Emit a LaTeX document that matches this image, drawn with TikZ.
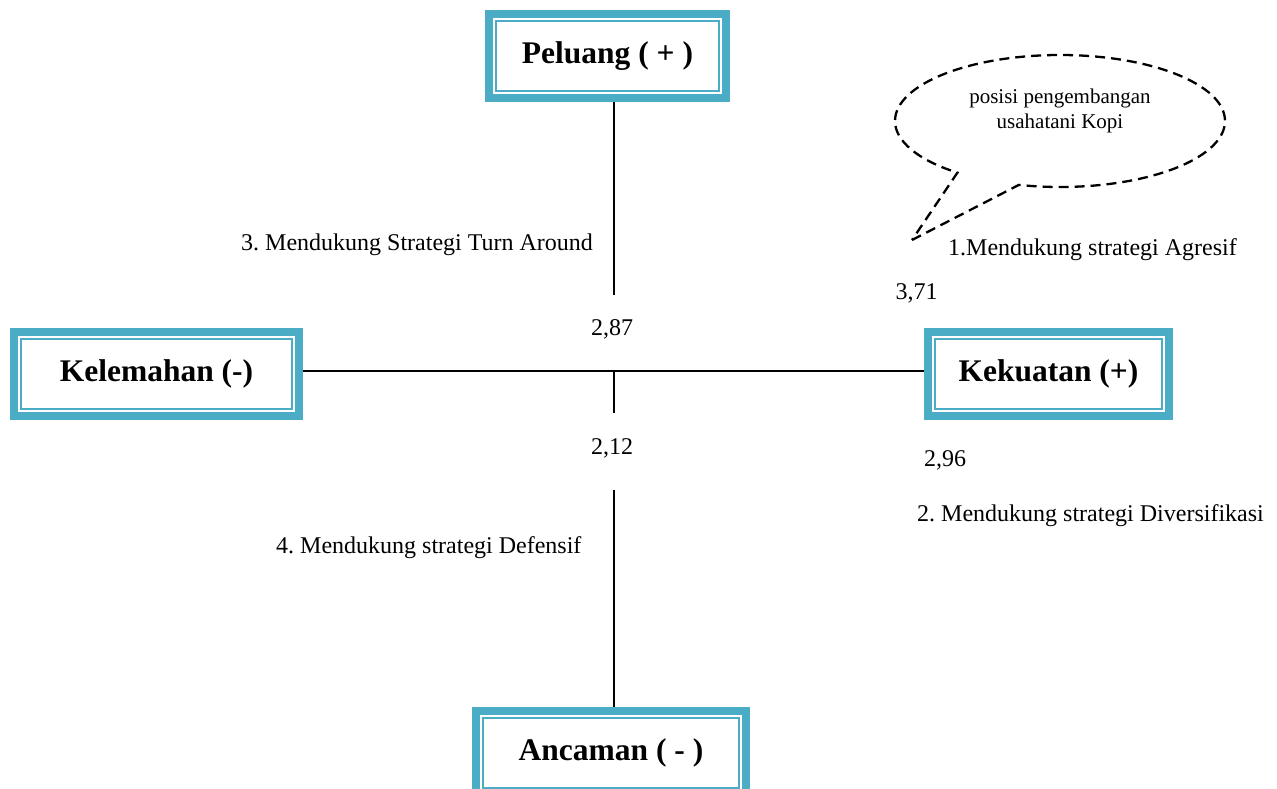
\documentclass[tikz,border=0pt]{standalone}
\usepackage{fontspec}
\setmainfont{Liberation Serif}
\usetikzlibrary{shapes.callouts}
\definecolor{swotteal}{RGB}{75,172,198}
\newcommand{\labelsize}{\fontsize{24}{28}\selectfont}
\newcommand{\notesize}{\fontsize{21}{25}\selectfont}
\newcommand{\boxsize}{\fontsize{31.5}{36}\selectfont\bfseries}
\frenchspacing

\tikzset{
	swotbox/.style={draw=swotteal, line width=8pt, fill=white, font=\boxsize,
		minimum width=#1, minimum height=84pt, inner sep=0pt,
		path picture={\draw[swotteal, line width=2pt]
			([shift={(7,7)}]path picture bounding box.north west) rectangle
			([shift={(-7,-7)}]path picture bounding box.south east);}},
	note/.style={font=\labelsize, inner sep=0pt},
	axis/.style={line width=1.6pt},
}

\begin{document}
\begin{tikzpicture}[x=1pt,y=-1pt]
	\useasboundingbox (0,0) rectangle (1277,789);

	\node[swotbox=237pt] (Peluang) at (607.5,56.5) {Peluang ( + )};
	\node[swotbox=285pt] (Kelemahan) at (156.5,374) {Kelemahan (-)};
	\node[swotbox=241pt] (Kekuatan) at (1048.5,373.5) {Kekuatan (+)};
	\node[swotbox=270pt] (Ancaman) at (611,753) {Ancaman ( - )};

	\coordinate (cross) at (614,371);
	\coordinate (topend) at (614,295);
	\coordinate (midend) at (614,413);
	\coordinate (lowstart) at (614,490);

	\draw[axis] (Peluang.south -| cross) -- (topend);
	\draw[axis] (Kelemahan.east |- cross) -- (Kekuatan.west |- cross);
	\draw[axis] (cross) -- (midend);
	\draw[axis] (lowstart) -- (Ancaman.north -| cross);

	\node[note] (O) at (612,329) {2,87};
	\node[note] (T) at (612,448) {2,12};
	\node[note] (S) at (916.5,293) {3,71};
	\node[note] (W) at (945,460) {2,96};

	\node[note, anchor=west] (agresif) at (948,250) {1.Mendukung strategi Agresif};
	\node[note, anchor=west] (diversifikasi) at (917,516) {2. Mendukung strategi Diversifikasi};
	\node[note, anchor=west] (turnaround) at (241,245) {3. Mendukung Strategi Turn Around};
	\node[note, anchor=west] (defensif) at (276,548) {4. Mendukung strategi Defensif};

	% callout for the position
	\node[ellipse callout, draw, line width=2.3pt, dash pattern=on 10pt off 6pt,
		minimum width=330pt, minimum height=132pt, inner sep=0pt,
		callout absolute pointer={(912,240)}, callout pointer arc=24] (posisi) at (1060,121) {};
	\node[font=\notesize, align=center, inner sep=0pt] (posisitext) at (1060,111)
		{posisi pengembangan\\usahatani Kopi};
\end{tikzpicture}
\end{document}
